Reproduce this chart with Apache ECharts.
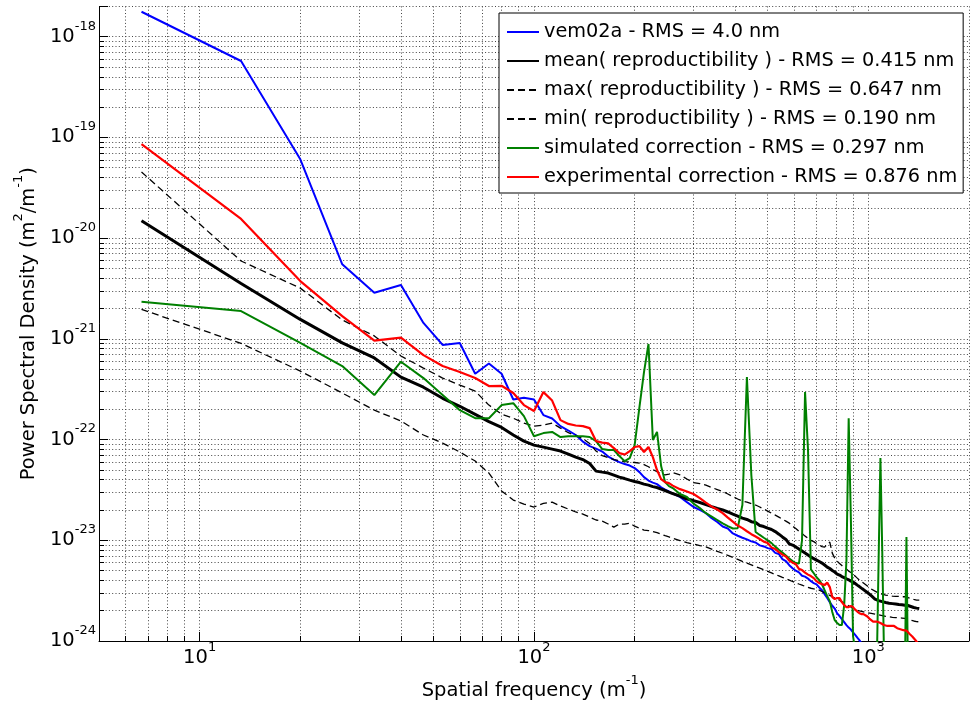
<!DOCTYPE html>
<html>
<head>
<meta charset="utf-8">
<script src="https://cdn.jsdelivr.net/npm/echarts@6/dist/echarts.min.js"></script>
<style>html,body{margin:0;padding:0;background:#fff}#c{width:973px;height:711px}</style>
</head>
<body>
<div id="c"></div>
<script>
// Spatial frequency bins (m^-1)
const freq = [6.7, 13.3, 20, 26.7, 33.3, 40, 46.7, 53.3, 60, 66.7, 73.3, 80, 86.7, 93.3, 100, 106.7, 113.3, 120, 126.7, 133.3,
  140, 146.7, 153.3, 160, 166.7, 173.3, 180, 186.7, 193.3, 200, 206.7, 213.3, 220, 226.7, 233.3, 240, 246.7, 253.3, 260,
  273.3, 286.7, 300, 313.3, 326.7, 340, 353.3, 366.7, 380, 393.3, 406.7, 420, 433.3, 446.7, 460, 473.3, 486.7, 500, 513.3, 526.7,
  540, 553.3, 566.7, 580, 593.3, 606.7, 620, 633.3, 646.7, 660, 673.3, 686.7, 700, 713.3, 726.7, 740, 753.3, 766.7, 780, 793.3,
  806.7, 820, 833.3, 846.7, 860, 873.3, 886.7, 900, 913.3, 926.7, 940, 953.3, 966.7, 980, 993.3, 1006.7, 1020, 1033.3, 1046.7, 1060,
  1073.3, 1086.7, 1100, 1113.3, 1126.7, 1140, 1153.3, 1166.7, 1180, 1193.3, 1206.7, 1220, 1233.3, 1246.7, 1260, 1273.3, 1286.7, 1300,
  1313.3, 1326.7, 1340, 1353.3, 1366.7, 1380, 1393.3, 1406.7, 1420];

// Power spectral density (m^2/m^-1)
const vem02a = [1.77e-18, 5.74e-19, 6.06e-20, 5.5e-21, 2.87e-21, 3.42e-21, 1.44e-21, 8.7e-22, 9.1e-22, 4.5e-22,
  5.7e-22, 4.5e-22, 2.5e-22, 2.6e-22, 2.5e-22, 1.75e-22, 1.62e-22, 1.36e-22, 1.23e-22, 1.11e-22,
  9.55e-23, 8.61e-23, 8.14e-23, 7.6e-23, 6.78e-23, 6.33e-23, 5.98e-23, 5.71e-23, 5.52e-23, 5.21e-23,
  4.75e-23, 4.24e-23, 3.92e-23, 3.74e-23, 3.61e-23, 3.35e-23, 3.18e-23, 3.05e-23, 2.91e-23,
  2.7e-23, 2.39e-23, 2.14e-23, 2.0e-23, 1.86e-23, 1.66e-23, 1.52e-23, 1.37e-23, 1.31e-23, 1.17e-23,
  1.11e-23, 1.06e-23, 1.02e-23, 9.75e-24, 9.5e-24, 8.9e-24, 8.69e-24, 8.36e-24, 8.2e-24, 7.5e-24,
  7.3e-24, 6.5e-24, 6.21e-24, 5.66e-24, 5.28e-24, 4.99e-24, 4.8e-24, 4.45e-24, 4.36e-24, 4.17e-24,
  3.93e-24, 3.76e-24, 3.65e-24, 3.4e-24, 3.2e-24, 2.92e-24, 2.67e-24, 2.43e-24, 2.24e-24, 2.1e-24,
  1.88e-24, 1.77e-24, 1.65e-24, 1.54e-24, 1.44e-24, 1.36e-24, 1.3e-24, 1.22e-24, 1.15e-24, 1.08e-24,
  1.02e-24, 9.5e-25];
const meanRepro = [1.49e-20, 3.55e-21, 1.56e-21, 9.12e-22, 6.46e-22, 4.17e-22, 3.31e-22, 2.57e-22, 2.14e-22, 1.78e-22,
  1.51e-22, 1.32e-22, 1.11e-22, 9.66e-23, 8.81e-23, 8.41e-23, 8.04e-23, 7.69e-23, 7.18e-23, 6.7e-23,
  6.33e-23, 5.78e-23, 4.86e-23, 4.75e-23, 4.65e-23, 4.44e-23, 4.24e-23, 4.1e-23, 3.96e-23, 3.83e-23,
  3.74e-23, 3.61e-23, 3.53e-23, 3.41e-23, 3.34e-23, 3.22e-23, 3.12e-23, 3.01e-23, 2.91e-23,
  2.75e-23, 2.57e-23, 2.48e-23, 2.37e-23, 2.26e-23, 2.16e-23, 2.07e-23, 2.0e-23, 1.91e-23, 1.82e-23,
  1.74e-23, 1.66e-23, 1.61e-23, 1.53e-23, 1.5e-23, 1.4e-23, 1.37e-23, 1.32e-23, 1.28e-23, 1.22e-23,
  1.15e-23, 1.08e-23, 1.02e-23, 9.2e-24, 8.96e-24, 8.56e-24, 8.18e-24, 7.81e-24, 7.46e-24, 7.13e-24,
  6.81e-24, 6.58e-24, 6.36e-24, 6.15e-24, 5.94e-24, 5.68e-24, 5.42e-24, 5.24e-24, 5.01e-24, 4.84e-24,
  4.62e-24, 4.52e-24, 4.36e-24, 4.26e-24, 4.15e-24, 4.05e-24, 3.93e-24, 3.85e-24, 3.72e-24, 3.59e-24,
  3.47e-24, 3.35e-24, 3.24e-24, 3.13e-24, 3.03e-24, 2.92e-24, 2.82e-24, 2.73e-24, 2.61e-24, 2.55e-24,
  2.52e-24, 2.49e-24, 2.46e-24, 2.44e-24, 2.41e-24, 2.38e-24, 2.37e-24, 2.35e-24, 2.35e-24, 2.34e-24,
  2.33e-24, 2.31e-24, 2.3e-24, 2.3e-24, 2.29e-24, 2.27e-24, 2.27e-24, 2.26e-24, 2.25e-24, 2.22e-24,
  2.2e-24, 2.17e-24, 2.15e-24, 2.12e-24, 2.12e-24, 2.11e-24, 2.1e-24];
const maxRepro = [4.54e-20, 5.93e-21, 3.19e-21, 1.54e-21, 1.07e-21, 6.75e-22, 5.13e-22, 4.08e-22, 3.48e-22, 3.03e-22,
  2.2e-22, 1.79e-22, 1.63e-22, 1.46e-22, 1.36e-22, 1.39e-22, 1.46e-22, 1.3e-22, 1.17e-22, 1.1e-22,
  1.02e-22, 9.13e-23, 7.69e-23, 6.93e-23, 6.63e-23, 6.33e-23, 6.19e-23, 6.05e-23, 5.98e-23, 5.92e-23,
  5.85e-23, 5.65e-23, 5.37e-23, 5.04e-23, 4.81e-23, 4.6e-23, 4.45e-23, 4.54e-23, 4.7e-23,
  4.45e-23, 4.06e-23, 3.74e-23, 3.66e-23, 3.53e-23, 3.34e-23, 3.19e-23, 3.05e-23, 2.88e-23, 2.72e-23,
  2.57e-23, 2.45e-23, 2.39e-23, 2.31e-23, 2.24e-23, 2.14e-23, 2.04e-23, 1.95e-23, 1.86e-23, 1.78e-23,
  1.7e-23, 1.62e-23, 1.55e-23, 1.48e-23, 1.38e-23, 1.31e-23, 1.23e-23, 1.17e-23, 1.1e-23, 1.05e-23,
  1.0e-23, 9.7e-24, 9.27e-24, 8.96e-24, 8.66e-24, 8.56e-24, 9.16e-24, 9.6e-24, 7.46e-24, 6.65e-24,
  6.21e-24, 5.87e-24, 5.61e-24, 5.35e-24, 5.18e-24, 4.94e-24, 4.78e-24, 4.56e-24, 4.41e-24, 4.21e-24,
  4.03e-24, 3.89e-24, 3.76e-24, 3.63e-24, 3.51e-24, 3.39e-24, 3.28e-24, 3.2e-24, 3.13e-24, 3.06e-24,
  2.99e-24, 2.96e-24, 2.92e-24, 2.89e-24, 2.86e-24, 2.86e-24, 2.82e-24, 2.82e-24, 2.79e-24, 2.79e-24,
  2.78e-24, 2.77e-24, 2.77e-24, 2.77e-24, 2.75e-24, 2.75e-24, 2.75e-24, 2.74e-24, 2.7e-24, 2.67e-24,
  2.64e-24, 2.61e-24, 2.59e-24, 2.58e-24, 2.55e-24, 2.55e-24, 2.55e-24];
const minRepro = [1.96e-21, 9.02e-22, 4.79e-22, 2.9e-22, 1.96e-22, 1.53e-22, 1.11e-22, 9.23e-23, 7.52e-23, 6.12e-23,
  4.65e-23, 3.09e-23, 2.51e-23, 2.29e-23, 2.14e-23, 2.32e-23, 2.39e-23, 2.19e-23, 2.04e-23, 1.91e-23,
  1.82e-23, 1.7e-23, 1.59e-23, 1.55e-23, 1.45e-23, 1.35e-23, 1.45e-23, 1.45e-23, 1.48e-23, 1.38e-23,
  1.32e-23, 1.26e-23, 1.25e-23, 1.22e-23, 1.19e-23, 1.15e-23, 1.11e-23, 1.08e-23, 1.05e-23,
  9.93e-24, 9.49e-24, 9.16e-24, 8.86e-24, 8.62e-24, 8.18e-24, 7.76e-24, 7.43e-24, 7.08e-24, 6.76e-24,
  6.47e-24, 6.18e-24, 5.94e-24, 5.71e-24, 5.48e-24, 5.28e-24, 5.09e-24, 4.91e-24, 4.74e-24, 4.58e-24,
  4.43e-24, 4.28e-24, 4.16e-24, 4.03e-24, 3.9e-24, 3.78e-24, 3.68e-24, 3.59e-24, 3.49e-24, 3.4e-24,
  3.34e-24, 3.29e-24, 3.24e-24, 3.2e-24, 3.1e-24, 3.01e-24, 2.92e-24, 2.84e-24, 2.75e-24, 2.68e-24,
  2.61e-24, 2.54e-24, 2.46e-24, 2.39e-24, 2.31e-24, 2.24e-24, 2.18e-24, 2.11e-24, 2.05e-24, 2.01e-24,
  1.99e-24, 1.97e-24, 1.95e-24, 1.92e-24, 1.91e-24, 1.89e-24, 1.88e-24, 1.87e-24, 1.85e-24, 1.84e-24,
  1.82e-24, 1.81e-24, 1.79e-24, 1.78e-24, 1.76e-24, 1.75e-24, 1.74e-24, 1.73e-24, 1.72e-24, 1.72e-24,
  1.71e-24, 1.7e-24, 1.7e-24, 1.69e-24, 1.69e-24, 1.68e-24, 1.68e-24, 1.67e-24, 1.65e-24, 1.63e-24,
  1.61e-24, 1.6e-24, 1.58e-24, 1.57e-24, 1.56e-24, 1.55e-24, 1.55e-24];
const simulated = [2.34e-21, 1.89e-21, 9.1e-22, 5.37e-22, 2.77e-22, 5.93e-22, 4.08e-22, 2.77e-22, 1.96e-22, 1.63e-22,
  1.63e-22, 2.2e-22, 2.3e-22, 1.71e-22, 1.08e-22, 1.16e-22, 1.19e-22, 1.06e-22, 1.08e-22, 1.08e-22,
  1.08e-22, 1.06e-22, 9.66e-23, 8.05e-23, 7.87e-23, 7.87e-23, 6.86e-23, 6.11e-23, 6.55e-23, 8.82e-23,
  2.1e-22, 4.68e-22, 8.9e-22, 9.9e-23, 1.19e-22, 5.46e-23, 3.78e-23, 3.45e-23, 3.3e-23,
  2.88e-23, 2.69e-23, 2.31e-23, 2.09e-23, 1.86e-23, 1.72e-23, 1.59e-23, 1.47e-23, 1.38e-23, 1.31e-23,
  1.32e-23, 2.24e-23, 4.18e-22, 4.45e-23, 1.21e-23, 1.13e-23, 1.06e-23, 1.0e-23, 9.37e-24, 8.65e-24,
  8.07e-24, 7.55e-24, 7.05e-24, 6.58e-24, 6.21e-24, 5.94e-24, 5.87e-24, 1.0e-23, 2.96e-22, 7.87e-23,
  5.15e-24, 4.71e-24, 4.3e-24, 4.02e-24, 3.66e-24, 3.19e-24, 2.79e-24, 2.49e-24, 1.94e-24, 1.61e-24,
  1.51e-24, 1.44e-24, 1.44e-24, 2.27e-24, 6.36e-24, 1.63e-22, 1.59e-23, 1.12e-24, 8e-25, 7e-25,
  6.5e-25, 6e-25, 6e-25, 5.5e-25, 5.5e-25, 5e-25, 5e-25, 5e-25, 4.8e-25, 6e-25,
  6.36e-24, 6.55e-23, 8.36e-24, 8e-25, 6e-25, 5.5e-25, 5e-25, 5e-25, 4.8e-25, 4.6e-25,
  4.5e-25, 4.4e-25, 4.3e-25, 4.3e-25, 4.2e-25, 4.2e-25, 5e-25, 1.08e-23, 5e-25, 4e-25,
  3.9e-25, 3.8e-25, 3.7e-25, 3.6e-25, 3.5e-25, 3.5e-25, 3.4e-25];
const experimental = [8.6e-20, 1.55e-20, 3.75e-21, 1.68e-21, 9.6e-22, 1.03e-21, 6.89e-22, 5.37e-22, 4.68e-22, 4.08e-22,
  3.4e-22, 3.42e-22, 2.9e-22, 2.2e-22, 1.92e-22, 2.96e-22, 2.44e-22, 1.56e-22, 1.43e-22, 1.38e-22,
  1.36e-22, 1.3e-22, 9.66e-23, 9.34e-23, 9.16e-23, 8.24e-23, 7.34e-23, 7.1e-23, 7.69e-23, 8.43e-23,
  8.61e-23, 7.52e-23, 8.43e-23, 6.7e-23, 4.98e-23, 4.05e-23, 3.78e-23, 3.7e-23, 3.49e-23,
  3.22e-23, 3.05e-23, 2.88e-23, 2.62e-23, 2.37e-23, 2.16e-23, 2.02e-23, 1.86e-23, 1.68e-23, 1.53e-23,
  1.4e-23, 1.32e-23, 1.23e-23, 1.15e-23, 1.09e-23, 1.03e-23, 9.7e-24, 9.4e-24, 8.5e-24, 8.18e-24,
  7.63e-24, 7.21e-24, 6.9e-24, 6.3e-24, 6.0e-24, 5.8e-24, 5.2e-24, 5.06e-24, 4.77e-24, 4.56e-24,
  4.41e-24, 4.21e-24, 3.93e-24, 3.76e-24, 3.67e-24, 3.59e-24, 3.8e-24, 3.43e-24, 2.73e-24, 2.61e-24,
  2.67e-24, 2.67e-24, 2.43e-24, 2.27e-24, 2.17e-24, 2.17e-24, 2.22e-24, 2.17e-24, 2.05e-24, 1.96e-24,
  1.89e-24, 1.85e-24, 1.85e-24, 1.81e-24, 1.75e-24, 1.67e-24, 1.61e-24, 1.56e-24, 1.58e-24, 1.56e-24,
  1.54e-24, 1.51e-24, 1.46e-24, 1.44e-24, 1.41e-24, 1.41e-24, 1.39e-24, 1.41e-24, 1.44e-24, 1.41e-24,
  1.37e-24, 1.34e-24, 1.33e-24, 1.31e-24, 1.3e-24, 1.28e-24, 1.28e-24, 1.27e-24, 1.22e-24, 1.18e-24,
  1.14e-24, 1.11e-24, 1.07e-24, 1.03e-24, 9.9e-25, 9.5e-25, 9.1e-25];

const seriesNames = ['vem02a - RMS = 4.0 nm', 'mean( reproductibility ) - RMS = 0.415 nm',
  'max( reproductibility ) - RMS = 0.647 nm', 'min( reproductibility ) - RMS = 0.190 nm',
  'simulated correction - RMS = 0.297 nm', 'experimental correction - RMS = 0.876 nm'];
const xTitle = 'Spatial frequency (m{s|-1})';
const yTitle = '{b|Power Spectral Density (m}{s|2}{b|/m}{s|-1}{b|)}';

// plotted in units of 1e-24 m^2/m^-1 (ECharts log ticks round very small numbers)
const UNIT = 1e-24;
const UNIT_EXP = -24;
function pts(vals) { return vals.map((v, i) => [freq[i], v / UNIT]); }

const FONT = 'DejaVu Sans';
const gridLine = { color: '#444', width: 1, type: [1, 2.3] };
const supRich = {
  b: { fontSize: 19.5, fontFamily: FONT, color: '#000', lineHeight: 20, verticalAlign: 'bottom' },
  s: { fontSize: 13, fontFamily: FONT, color: '#000', lineHeight: 13, verticalAlign: 'bottom', padding: [0, 0, 14, 0] }
};
function powLabel(exp) { return '{b|10}{s|' + exp + '}'; }

const chart = echarts.init(document.getElementById('c'), null, { renderer: 'canvas' });
const lineSeries = (name, vals, color, width, type) => ({
  name, type: 'line', data: pts(vals), showSymbol: false, symbol: 'none', clip: true, silent: true,
  lineStyle: { color, width, type: type || 'solid' }, itemStyle: { color },
  emphasis: { disabled: true }, animation: false
});

chart.setOption({
  animation: false,
  backgroundColor: '#fff',
  textStyle: { fontFamily: FONT },
  grid: { left: 99, right: 4, top: 6.4, bottom: 70, containLabel: false, outerBoundsMode: 'none' },
  legend: {
    orient: 'vertical', left: 499, top: 13, padding: [9, 6, 6, 7], itemGap: 9,
    itemWidth: 32, itemHeight: 14, backgroundColor: '#fff', borderColor: '#000', borderWidth: 1,
    selectedMode: false, itemStyle: { opacity: 0 },
    textStyle: { fontFamily: FONT, fontSize: 19.3, color: '#000', lineHeight: 20 },
    data: seriesNames
  },
  xAxis: {
    type: 'log', logBase: 10, min: 5, max: 2000,
    axisLine: { show: true, onZero: false, lineStyle: { color: '#000', width: 1 } },
    axisTick: { show: true, inside: true, length: 9, lineStyle: { color: '#000' } },
    minorTick: { show: true, splitNumber: 9, length: 5, lineStyle: { color: '#000' } },
    splitLine: { show: true, lineStyle: gridLine },
    minorSplitLine: { show: true, lineStyle: gridLine },
    axisLabel: {
      margin: 7, color: '#000', rich: supRich,
      formatter: v => { const e = Math.log10(v); return Math.abs(e - Math.round(e)) < 1e-6 ? powLabel(Math.round(e)) : ''; }
    },
    name: xTitle, nameLocation: 'middle', nameGap: 40,
    nameTextStyle: { fontFamily: FONT, fontSize: 19.5, color: '#000', rich: supRich }
  },
  yAxis: {
    type: 'log', logBase: 10, min: 1, max: 2e6,
    axisLine: { show: true, onZero: false, lineStyle: { color: '#000', width: 1 } },
    axisTick: { show: true, inside: true, length: 9, lineStyle: { color: '#000' } },
    minorTick: { show: true, splitNumber: 9, length: 5, lineStyle: { color: '#000' } },
    splitLine: { show: true, lineStyle: gridLine },
    minorSplitLine: { show: true, lineStyle: gridLine },
    axisLabel: {
      margin: 3, color: '#000', rich: supRich,
      formatter: v => { const e = Math.log10(v); return Math.abs(e - Math.round(e)) < 1e-6 ? powLabel(Math.round(e) + UNIT_EXP) : ''; }
    },
    name: yTitle, nameLocation: 'middle', nameGap: 52,
    nameTextStyle: { fontFamily: FONT, fontSize: 19.5, color: '#000', rich: supRich }
  },
  series: [
    lineSeries(seriesNames[0], vem02a, '#0000ff', 2),
    lineSeries(seriesNames[1], meanRepro, '#000000', 3),
    lineSeries(seriesNames[2], maxRepro, '#000000', 1.3, [7, 4]),
    lineSeries(seriesNames[3], minRepro, '#000000', 1.3, [7, 4]),
    lineSeries(seriesNames[4], simulated, '#008000', 2),
    lineSeries(seriesNames[5], experimental, '#ff0000', 2.2)
  ]
});
</script>
</body>
</html>
